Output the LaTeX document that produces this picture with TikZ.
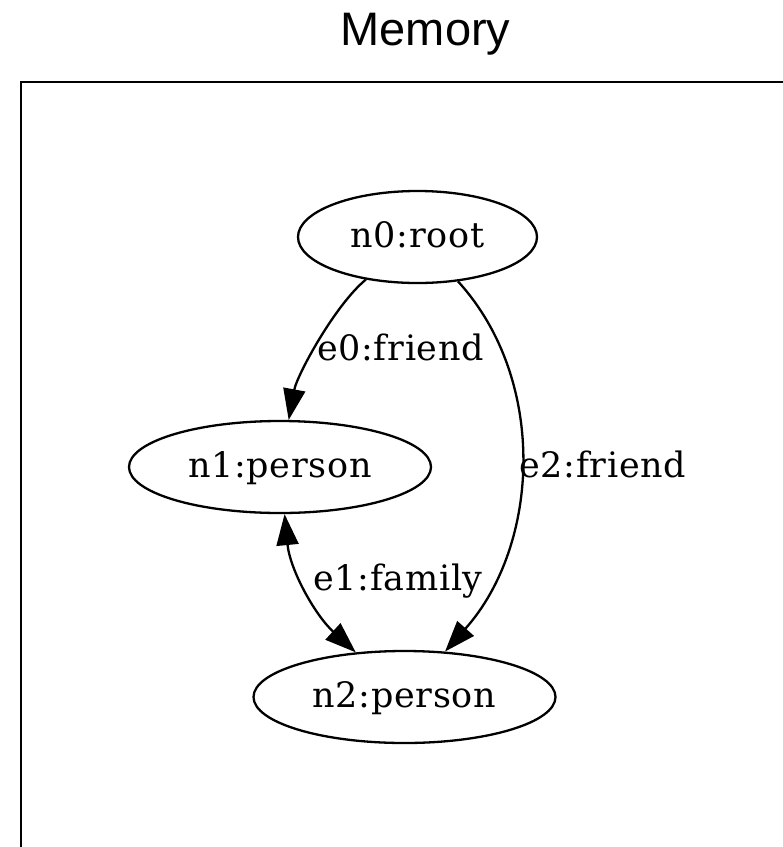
\documentclass[tikz,border=0pt]{standalone}
\usepackage{fontspec}
\setmainfont{DejaVu Serif}[LetterSpace=2]
\newfontfamily\titlefont{Liberation Sans}
\usetikzlibrary{arrows.meta,shapes.geometric}

\begin{document}
\begin{tikzpicture}[x=1pt,y=-1pt,
  labelfont/.style={font=\fontsize{35}{38}\selectfont},
  state/.style={ellipse, draw, line width=2.3pt, inner sep=0pt,
    minimum height=92pt, labelfont, text height=27pt, text depth=7pt},
  tip/.tip={Triangle[length=31pt,width=22pt]},
  edge/.style={line width=2.3pt, -tip},
  biedge/.style={line width=2.3pt, tip-tip},
  elabel/.style={labelfont, inner sep=0pt, anchor=base}]

  % canvas
  \useasboundingbox (0,0) rectangle (783,847);
  \fill[white] (0,0) rectangle (783,847);
  \clip (0,0) rectangle (783,847);

  % title and cluster frame
  \node[font=\titlefont\fontsize{47}{50}\selectfont, anchor=base, inner sep=0pt]
    (title) at (425.5,45) {Memory};
  \draw[line width=2.3pt] (21,860) -- (21,82) -- (800,82);

  % graph nodes
  \node[state, minimum width=239pt] (n0) at (417.5,237) {n0:root};
  \node[state, minimum width=302pt] (n1) at (280,467) {n1:person};
  \node[state, minimum width=302pt] (n2) at (404.5,697) {n2:person};

  % edges
  \draw[edge] (n0) .. controls (335,305) and (297,375) .. (n1);
  \draw[edge] (n0) .. controls (548,380) and (540,545) .. (n2);
  \draw[biedge] (n1) .. controls (290,570) and (315,615) .. (n2);

  % edge labels
  \node[elabel] (l0) at (400.5,360) {e0:friend};
  \node[elabel, anchor=base west] (l2) at (519,477) {e2:friend};
  \node[elabel] (l1) at (398,590) {e1:family};
\end{tikzpicture}
\end{document}
